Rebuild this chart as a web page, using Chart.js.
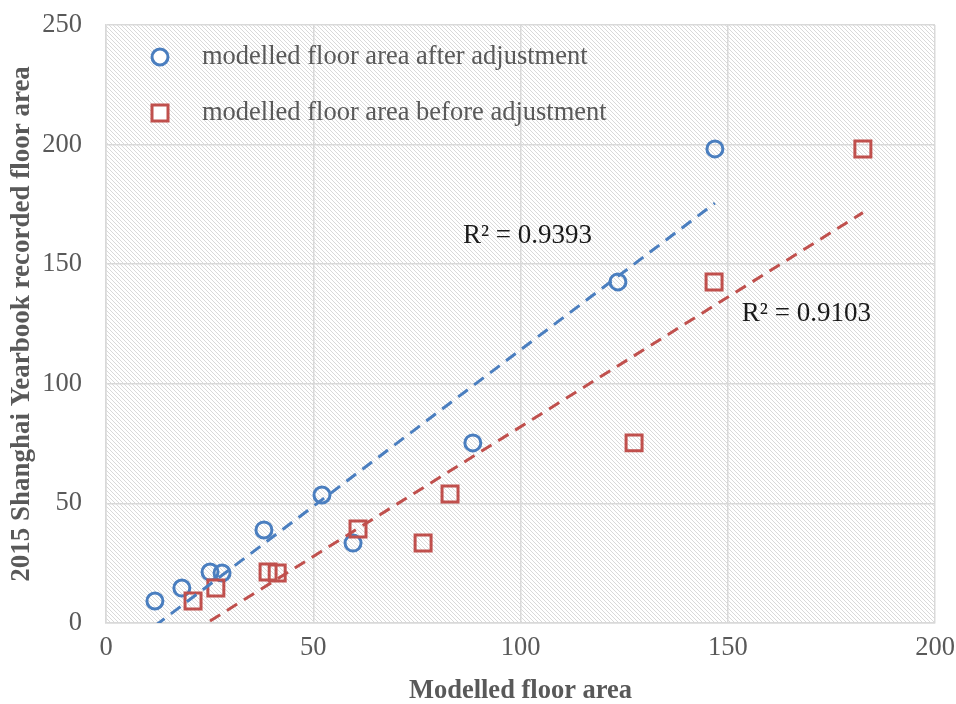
<!DOCTYPE html>
<html>
<head>
<meta charset="utf-8">
<script src="https://cdn.jsdelivr.net/npm/chart.js@4.4.0/dist/chart.umd.min.js"></script>
<style>
body { margin: 0; background: #fff; }
</style>
</head>
<body>
<canvas id="myChart" width="956" height="704"></canvas>
<script>
// modelled floor area after adjustment (blue circles)
var afterX = [11.8, 18.3, 25.1, 28.0, 38.1, 52.1, 59.6, 88.5, 123.5, 146.9];
var afterY = [9.2, 14.6, 21.3, 20.9, 38.9, 53.5, 33.4, 75.3, 142.6, 198.2];
// modelled floor area before adjustment (red squares)
var beforeX = [21.0, 26.5, 39.1, 41.3, 60.8, 76.5, 83.0, 127.4, 146.7, 182.6];
var beforeY = [9.2, 14.6, 21.3, 20.9, 39.3, 33.4, 53.9, 75.3, 142.6, 198.2];

var seriesNames = ['modelled floor area after adjustment', 'modelled floor area before adjustment'];
var rSquared = ['R\u00b2 = 0.9393', 'R\u00b2 = 0.9103'];
var xTicks = [0, 50, 100, 150, 200];
var yTicks = [0, 50, 100, 150, 200, 250];

var blue = '#4a7ebf';
var red = '#c0504d';
var grey = '#595959';
var serif = '"Liberation Serif", "Times New Roman", serif';

function points(xs, ys) {
    return xs.map(function(x, i) { return { x: x, y: ys[i] }; });
}

// linear least-squares trendline, from smallest to largest x
function trend(xs, ys) {
    var n = xs.length, sx = 0, sy = 0, sxx = 0, sxy = 0;
    for (var i = 0; i < n; i++) {
        sx += xs[i]; sy += ys[i]; sxx += xs[i] * xs[i]; sxy += xs[i] * ys[i];
    }
    var m = (n * sxy - sx * sy) / (n * sxx - sx * sx);
    var b = (sy - m * sx) / n;
    var x0 = Math.min.apply(null, xs), x1 = Math.max.apply(null, xs);
    return [{ x: x0, y: m * x0 + b }, { x: x1, y: m * x1 + b }];
}

// no extra room for overhanging tick labels, layout padding decides
function noOverhang(s) {
    s.paddingTop = 0; s.paddingBottom = 0; s.paddingLeft = 0; s.paddingRight = 0;
}

// diagonal hatch behind the plot area
var hatch = {
    id: 'hatch',
    beforeDraw: function(chart) {
        var a = chart.chartArea, c = chart.ctx;
        var tile = document.createElement('canvas');
        tile.width = 4; tile.height = 4;
        var t = tile.getContext('2d');
        t.strokeStyle = '#d9d9d9';
        t.lineWidth = 1;
        t.beginPath();
        t.moveTo(-1, -1); t.lineTo(5, 5);
        t.moveTo(3, -1); t.lineTo(5, 1);
        t.moveTo(-1, 3); t.lineTo(1, 5);
        t.stroke();
        c.save();
        c.fillStyle = c.createPattern(tile, 'repeat');
        c.fillRect(a.left, a.top, a.right - a.left, a.bottom - a.top);
        c.restore();
    }
};

// in-plot legend and R² labels
var notes = {
    id: 'notes',
    afterDraw: function(chart) {
        var c = chart.ctx, xs = chart.scales.x, ys = chart.scales.y;
        c.save();
        c.font = '26.5px ' + serif;
        c.textBaseline = 'middle';
        c.lineWidth = 3;
        // legend
        c.strokeStyle = blue;
        c.fillStyle = '#fff';
        c.beginPath(); c.arc(160, 57, 8, 0, Math.PI * 2); c.fill(); c.stroke();
        c.strokeStyle = red;
        c.fillRect(152, 105, 16, 16); c.strokeRect(152, 105, 16, 16);
        c.fillStyle = grey;
        c.fillText(seriesNames[0], 202, 57);
        c.fillText(seriesNames[1], 202, 113);
        // R² labels
        c.font = '27px ' + serif;
        c.fillStyle = '#1a1a1a';
        c.fillText(rSquared[0], xs.getPixelForValue(86.1), ys.getPixelForValue(161.8));
        c.fillText(rSquared[1], xs.getPixelForValue(153.4), ys.getPixelForValue(129.2));
        c.restore();
    }
};

var ctx = document.getElementById('myChart').getContext('2d');
var myChart = new Chart(ctx, {
    type: 'scatter',
    data: {
        datasets: [{
            label: 'trend before',
            type: 'line',
            data: trend(beforeX, beforeY),
            borderColor: red,
            borderWidth: 3,
            borderDash: [12, 8],
            pointRadius: 0,
            fill: false
        }, {
            label: 'trend after',
            type: 'line',
            data: trend(afterX, afterY),
            borderColor: blue,
            borderWidth: 3,
            borderDash: [12, 8],
            pointRadius: 0,
            fill: false
        }, {
            label: seriesNames[1],
            data: points(beforeX, beforeY),
            pointStyle: 'rect',
            pointRadius: 11.3,
            borderColor: red,
            borderWidth: 3,
            backgroundColor: 'rgba(255,255,255,0)'
        }, {
            label: seriesNames[0],
            data: points(afterX, afterY),
            pointStyle: 'circle',
            pointRadius: 8,
            borderColor: blue,
            borderWidth: 3,
            backgroundColor: 'rgba(255,255,255,0)'
        }]
    },
    options: {
        responsive: false,
        animation: false,
        devicePixelRatio: 1,
        layout: { padding: { top: 25, right: 21, left: 0, bottom: 0 } },
        plugins: {
            legend: { display: false },
            tooltip: { enabled: false }
        },
        scales: {
            x: {
                type: 'linear',
                min: 0,
                max: 200,
                afterBuildTicks: function(s) { s.ticks = xTicks.map(function(v) { return { value: v }; }); },
                afterFit: function(s) { s.height = 81; noOverhang(s); },
                grid: { color: '#d9d9d9', lineWidth: 1.5, drawTicks: false },
                border: { color: '#d9d9d9', width: 1.5 },
                ticks: { color: grey, font: { family: serif, size: 26.5 }, padding: 9, maxRotation: 0 },
                title: {
                    display: true,
                    text: 'Modelled floor area',
                    color: grey,
                    font: { family: serif, size: 26.5, weight: 'bold' },
                    padding: { top: 0, bottom: -3 }
                }
            },
            y: {
                type: 'linear',
                min: 0,
                max: 250,
                afterBuildTicks: function(s) { s.ticks = yTicks.map(function(v) { return { value: v }; }); },
                afterFit: function(s) { s.width = 106; noOverhang(s); },
                grid: { color: '#d9d9d9', lineWidth: 1.5, drawTicks: false },
                border: { color: '#d9d9d9', width: 1.5 },
                ticks: { color: grey, font: { family: serif, size: 26.5 }, padding: 24 },
                title: {
                    display: true,
                    text: '2015 Shanghai Yearbook recorded floor area',
                    color: grey,
                    font: { family: serif, size: 27, weight: 'bold' },
                    padding: { top: 6, bottom: 0 }
                }
            }
        }
    },
    plugins: [hatch, notes]
});
</script>
</body>
</html>
